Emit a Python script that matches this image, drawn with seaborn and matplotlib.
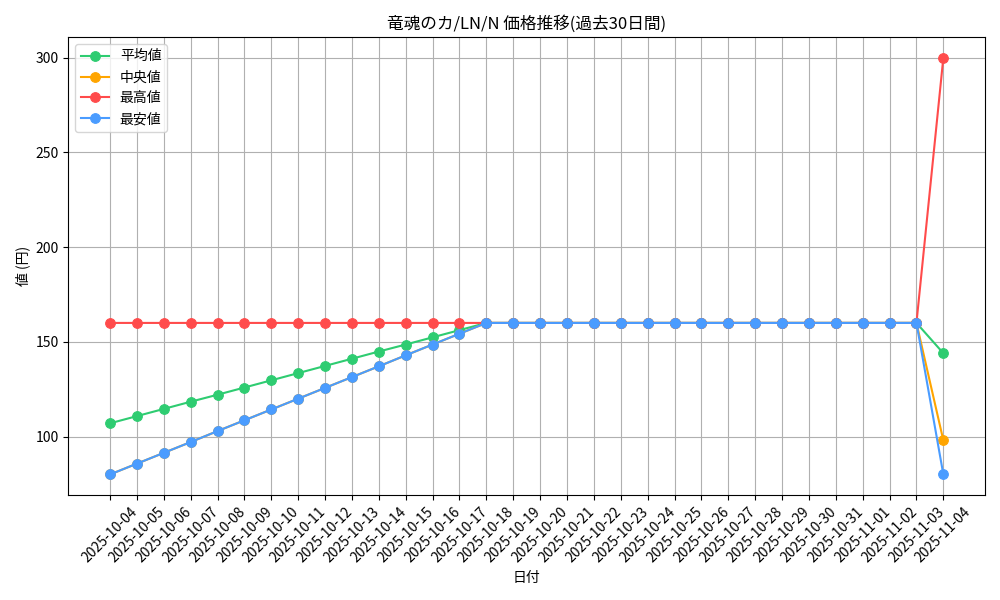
import pandas as pd
import matplotlib
matplotlib.use('Agg')
import matplotlib.pyplot as plt
import seaborn as sns

plt.rcParams['font.family'] = ['Noto Sans CJK JP', 'DejaVu Sans']

dates = pd.date_range('2025-10-04', '2025-11-04').strftime('%Y-%m-%d').tolist()

# price stats per day
min_price = [80, 85.7, 91.4, 97.1, 102.9, 108.6, 114.3, 120, 125.7, 131.4,
             137.1, 142.9, 148.6, 154.3] + [160] * 17 + [80]
median_price = min_price[:-1] + [98]
max_price = [160] * 31 + [300]
mean_price = [107, 110.8, 114.6, 118.4, 122.1, 125.9, 129.7, 133.5, 137.3, 141.1,
              144.9, 148.6, 152.4, 156.2] + [160] * 17 + [144]

series = {
    '平均値': (mean_price, '#2ecc71'),
    '中央値': (median_price, '#ffa500'),
    '最高値': (max_price, '#ff4b4b'),
    '最安値': (min_price, '#4a9cff'),
}

fig, ax = plt.subplots(figsize=(10, 6))
for name, (vals, col) in series.items():
    df = pd.DataFrame({'date': dates, 'price': vals})
    sns.lineplot(data=df, x='date', y='price', marker='o', color=col,
                 markeredgecolor=col, markersize=7, linewidth=1.5, label=name, ax=ax)

ax.set_title('竜魂のカ/LN/N 価格推移(過去30日間)')
ax.set_xlabel('日付')
ax.set_ylabel('値 (円)')
ax.grid(True)
plt.xticks(rotation=45)
ax.legend(loc='upper left')
plt.tight_layout()
plt.savefig('out.png', dpi=100)
